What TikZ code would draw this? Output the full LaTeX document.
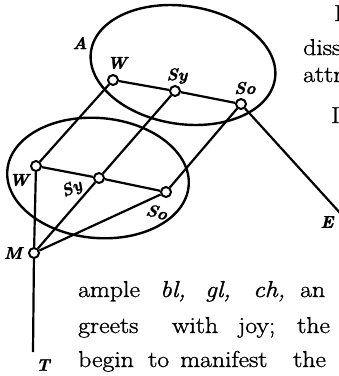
\documentclass[tikz,border=0pt]{standalone}
\usepackage{fontspec}
\usepackage{graphicx}
\newfontfamily\pagefont{Latin Modern Roman}[FakeBold=1.2]
\newfontfamily\labfont{Latin Modern Roman}[FakeBold=1.6]
\newcommand{\pagewd}[1]{\scalebox{1.12}[1]{#1}}
\begin{document}
\begin{tikzpicture}[x=1pt,y=-1pt,
  dot/.style={circle,draw,fill=white,line width=2pt,inner sep=0pt,minimum size=10pt},
  conn/.style={line width=2.2pt},
  oval/.style={line width=2.4pt},
  lab/.style={font=\labfont\fontsize{17}{17}\selectfont\bfseries\itshape,inner sep=0pt},
  body/.style={font=\pagefont\fontsize{23}{28}\selectfont,anchor=base west,inner sep=0pt}
]
\useasboundingbox (0,0) rectangle (339,376);
% ellipses
\draw[oval,rotate around={-8.6:(183,65)}] (183,65) ellipse (93 and 59);
\draw[oval,rotate around={-5:(98,178)}] (98,178) ellipse (91 and 60);
% nodes
\node[dot] (uW)  at (113,80) {};
\node[dot] (uSy) at (175,91) {};
\node[dot] (uSo) at (241,104) {};
\node[dot] (lW)  at (36,166) {};
\node[dot] (lSy) at (99,178) {};
\node[dot] (lSo) at (166,192) {};
\node[dot] (M)   at (34,253) {};
\coordinate (Tend) at (33,352);
\coordinate (Eend) at (341,214);
% connectors
\draw[conn] (uW) -- (uSy) -- (uSo);
\draw[conn] (lW) -- (lSy) -- (lSo);
\draw[conn] (uW) -- (lW);
\draw[conn] (uSy) -- (lSy) -- (M);
\draw[conn] (uSo) -- (lSo) -- (M);
\draw[conn] (lW) -- (M);
\draw[conn] (M) -- (Tend);
\draw[conn] (uSo) -- (Eend);
% labels
\node[lab] (lA)   at (80,43) {A};
\node[lab] (luW)  at (117,63) {W};
\node[lab] (luSy) at (177,76) {Sy};
\node[lab] (luSo) at (245,88) {So};
\node[lab] (llW)  at (19,180) {W};
\node[lab,rotate=25] (llSy) at (72,189) {Sy};
\node[lab,rotate=-15] (llSo) at (157,212) {So};
\node[lab] (lM)   at (13,253) {M};
\node[lab] (lT)   at (43,365) {T};
\node[lab] (lE)   at (327,222) {E};
% surrounding page text
\node[body] (t1) at (334,21) {\pagewd{I}};
\node[body] (t2) at (303,55) {\pagewd{diss}};
\node[body] (t3) at (303,82) {\pagewd{attr}};
\node[body] (t4) at (331,123) {\pagewd{I}};
\node[body] (w11) at (78,297) {\pagewd{ample}};
\node[body] (w12) at (160,297) {\pagewd{\itshape bl,}};
\node[body] (w13) at (205,297) {\pagewd{\itshape gl,}};
\node[body] (w14) at (253,297) {\pagewd{\itshape ch,}};
\node[body] (w15) at (300,297) {\pagewd{an}};
\node[body] (w21) at (78,333) {\pagewd{greets}};
\node[body] (w22) at (172,333) {\pagewd{with}};
\node[body] (w23) at (238,333) {\pagewd{joy;}};
\node[body] (w24) at (297,333) {\pagewd{the}};
\node[body] (w31) at (78,367) {\pagewd{begin}};
\node[body] (w32) at (148,367) {\pagewd{to}};
\node[body] (w33) at (180,367) {\pagewd{manifest}};
\node[body] (w34) at (293,367) {\pagewd{the}};
\end{tikzpicture}
\end{document}
